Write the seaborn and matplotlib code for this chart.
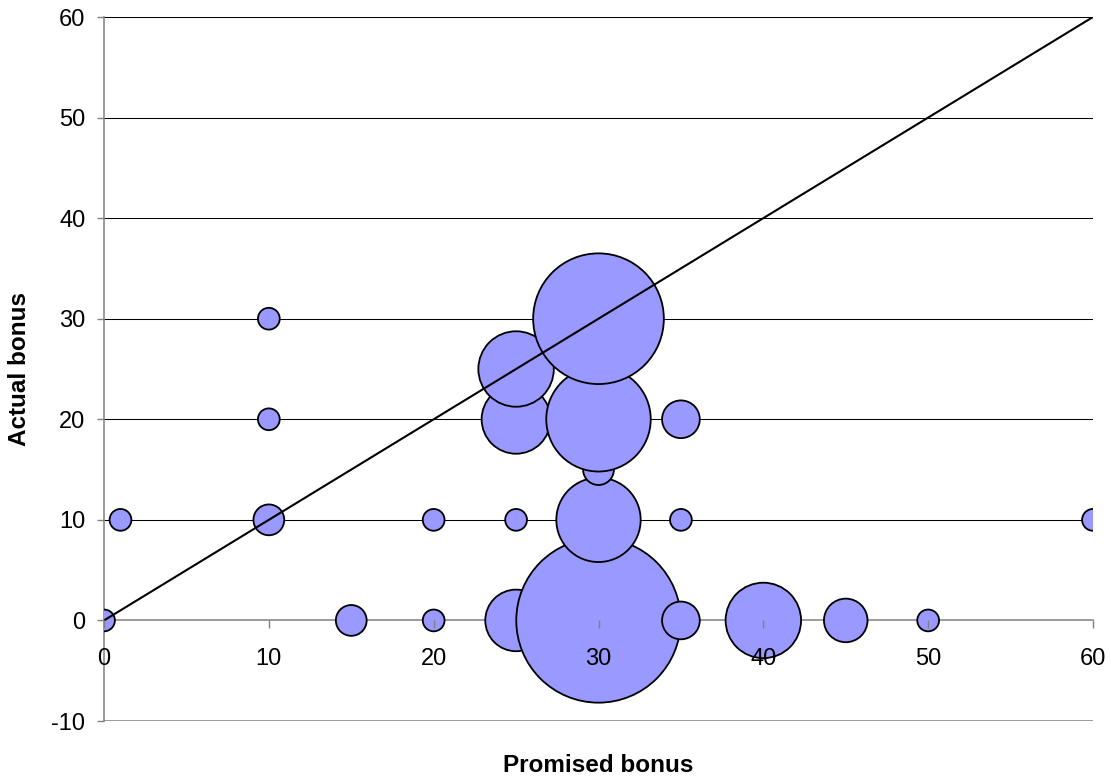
import matplotlib
matplotlib.use("Agg")
import matplotlib.pyplot as plt
import seaborn as sns
import pandas as pd

# Promised vs. actual bonus, bubble area = number of cases
promised = [0, 1, 10, 10, 10, 15, 20, 20, 25, 25, 25, 25, 30, 30, 30, 30, 30, 35, 35, 35, 40, 45, 50, 60]
actual = [0, 10, 10, 20, 30, 0, 0, 10, 0, 10, 20, 25, 0, 10, 15, 20, 30, 0, 10, 20, 0, 0, 0, 10]
count = [1, 1, 2, 1, 1, 2, 1, 1, 8, 1, 10, 12, 57, 15, 2, 23, 36, 3, 1, 3, 12, 4, 1, 1]

# reference line: actual == promised
diag_x = [0, 60]
diag_y = [0, 60]

x_ticks = [0, 10, 20, 30, 40, 50, 60]
y_ticks = [-10, 0, 10, 20, 30, 40, 50, 60]

df = pd.DataFrame({"Promised bonus": promised, "Actual bonus": actual, "n": count})

sns.set_theme(style="white")
plt.rcParams["font.family"] = ["Liberation Sans", "DejaVu Sans"]
plt.rcParams["text.color"] = "black"
plt.rcParams["axes.labelcolor"] = "black"

fig = plt.figure(figsize=(11.11, 7.79), dpi=100)
ax = fig.add_axes([104 / 1111, 1 - 721 / 779, 989 / 1111, 704 / 779])

# horizontal gridlines behind the bubbles
for yv in y_ticks[2:]:
    ax.axhline(yv, color="black", lw=0.75, zorder=0.5)
ax.axhline(-10, color="#808080", lw=1.1, zorder=0.6)

unit = 246.0
sns.scatterplot(
    data=df, x="Promised bonus", y="Actual bonus", size="n",
    sizes=(unit * min(count), unit * max(count)),
    size_norm=(min(count), max(count)),
    color="#9999FF", edgecolor="black", linewidth=1.3, alpha=1,
    legend=False, ax=ax, zorder=3,
)

ax.plot(diag_x, diag_y, color="black", lw=1.5, zorder=4, solid_capstyle="butt")

ax.set_xlim(0, 60)
ax.set_ylim(-10, 60)
ax.set_xticks(x_ticks)
ax.set_yticks(y_ticks)
ax.set_xticklabels([str(v) for v in x_ticks])
ax.set_yticklabels([str(v) for v in y_ticks])

for side in ("top", "right"):
    ax.spines[side].set_visible(False)
ax.spines["bottom"].set_position(("data", 0))
for side in ("left", "bottom"):
    ax.spines[side].set_color("#808080")
    ax.spines[side].set_linewidth(1.1)
    ax.spines[side].set_zorder(2.5)

ax.tick_params(axis="y", direction="out", length=5, width=1, color="#808080",
               pad=8.5, labelsize=17, labelcolor="black", left=True)
ax.tick_params(axis="x", direction="out", length=5.5, width=1, color="#808080",
               pad=14, labelsize=17, labelcolor="black", bottom=True)
ax.xaxis.set_zorder(5)
ax.yaxis.set_zorder(5)
ax.grid(False)

ax.set_xlabel("Promised bonus", fontsize=17.5, fontweight="bold", va="center", color="black")
ax.set_ylabel("Actual bonus", fontsize=17.5, fontweight="bold", va="center", color="black")
ax.xaxis.set_label_coords(0.5, -(765 - 721) / 704)
ax.yaxis.set_label_coords(-(104 - 20) / 989, 0.5)

fig.savefig("out.png", dpi=100, facecolor="white")
